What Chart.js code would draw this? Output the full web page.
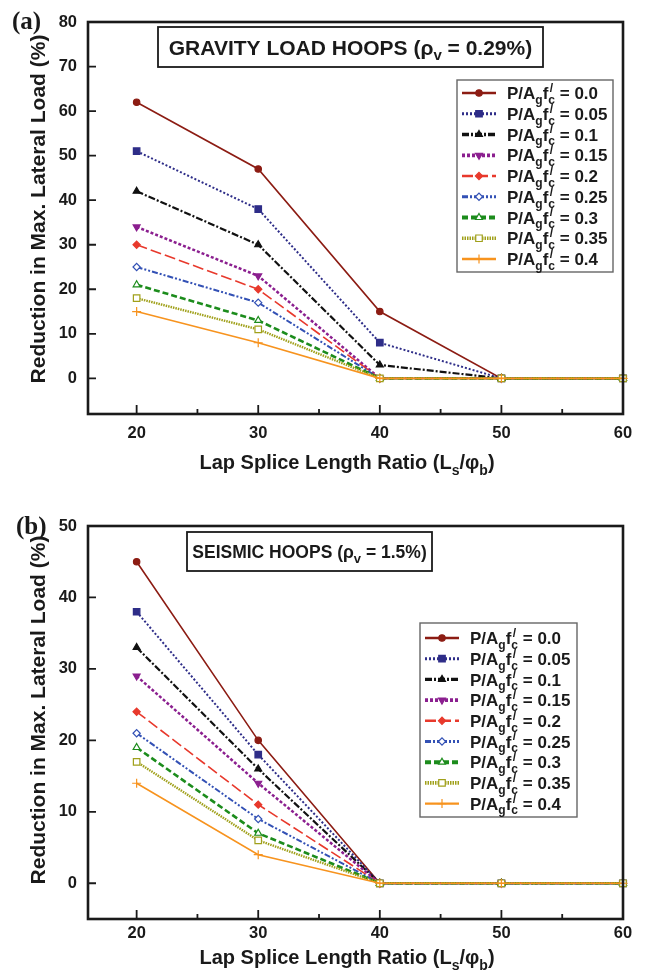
<!DOCTYPE html>
<html>
<head>
<meta charset="utf-8">
<script src="https://cdn.jsdelivr.net/npm/chart.js@4.4.0/dist/chart.umd.min.js"></script>
<style>
  html, body { margin: 0; padding: 0; background: #fff; }
  #wrap { position: relative; width: 646px; height: 980px; }
  .panel { position: absolute; left: 0; width: 646px; height: 490px; }
</style>
</head>
<body>
<div id="wrap">
  <div class="panel" style="top:0"><canvas id="chartA" width="646" height="490"></canvas></div>
  <div class="panel" style="top:490px"><canvas id="chartB" width="646" height="490"></canvas></div>
</div>
<script>
// --- data ---
const xValues = [20, 30, 40, 50, 60];
const xTicks = [20, 30, 40, 50, 60];
const xMinorTicks = [25, 35, 45, 55];
const loadRatios = ['0.0', '0.05', '0.1', '0.15', '0.2', '0.25', '0.3', '0.35', '0.4'];

const gravityTicks = [0, 10, 20, 30, 40, 50, 60, 70, 80];
const seismicTicks = [0, 10, 20, 30, 40, 50];

// (a) gravity load hoops, one row per P/Agfc'
const gravityReduction = [
  [62, 47, 15, 0, 0],
  [51, 38, 8, 0, 0],
  [42, 30, 3, 0, 0],
  [34, 23, 0, 0, 0],
  [30, 20, 0, 0, 0],
  [25, 17, 0, 0, 0],
  [21, 13, 0, 0, 0],
  [18, 11, 0, 0, 0],
  [15, 8, 0, 0, 0]
];

// (b) seismic hoops
const seismicReduction = [
  [45, 20, 0, 0, 0],
  [38, 18, 0, 0, 0],
  [33, 16, 0, 0, 0],
  [29, 14, 0, 0, 0],
  [24, 11, 0, 0, 0],
  [21, 9, 0, 0, 0],
  [19, 7, 0, 0, 0],
  [17, 6, 0, 0, 0],
  [14, 4, 0, 0, 0]
];

// --- styles ---
const FONT = '"Liberation Sans", Arial, Helvetica, sans-serif';
const TEXT = '#1a1a1a';

const seriesStyles = [
  { color: '#8c1c13', dash: [], width: 1.6, marker: 'circle', radius: 3.2 },
  { color: '#2e2d88', dash: [2, 2], width: 2, marker: 'rect', radius: 4.6 },
  { color: '#111111', dash: [7, 2, 2, 2], width: 2.2, marker: 'triangle', radius: 4 },
  { color: '#8b1f8f', dash: [3, 2], width: 2.5, marker: 'triangle', radius: 4, rotation: 180 },
  { color: '#e8392c', dash: [11, 4], width: 1.6, marker: 'rectRot', radius: 3.6 },
  { color: '#3351b5', dash: [6, 2, 2, 2, 2, 2], width: 2, marker: 'rectRot', radius: 3.6, open: true },
  { color: '#1c8c1c', dash: [6, 3], width: 2.6, marker: 'triangle', radius: 4, open: true },
  { color: '#a0a01a', dash: [1.5, 1], width: 2.4, marker: 'rect', radius: 4.6, open: true },
  { color: '#f7931e', dash: [], width: 1.6, marker: 'cross', radius: 4.5 }
];

// rich text helpers (subscripts / primes)
function partFont(size, small) {
  return `bold ${small ? Math.round(size * 0.72) : size}px ${FONT}`;
}

function partAdvance(ctx, p, size) {
  ctx.font = partFont(size, p.sub);
  let w = ctx.measureText(p.t).width;
  if (p.over) {
    ctx.font = partFont(size, true);
    w = Math.max(w, ctx.measureText(p.over).width + size * 0.08);
  }
  return w;
}

function drawRich(ctx, parts, x, baseY, size, align) {
  const total = parts.reduce((s, p) => s + partAdvance(ctx, p, size), 0);
  let cx = align === 'center' ? x - total / 2 : x;
  ctx.textAlign = 'left';
  ctx.textBaseline = 'alphabetic';
  ctx.fillStyle = TEXT;
  parts.forEach(p => {
    const adv = partAdvance(ctx, p, size);
    ctx.font = partFont(size, p.sub);
    ctx.fillText(p.t, cx, p.sub ? baseY + size * 0.28 : baseY);
    if (p.over) {
      ctx.font = partFont(size, true);
      ctx.fillText(p.over, cx + size * 0.08, baseY - size * 0.42);
    }
    cx += adv;
  });
}

const legendParts = r => [{ t: 'P/A' }, { t: 'g', sub: true }, { t: 'f' }, { t: 'c', sub: true, over: '/' }, { t: ' = ' + r }];
const xTitleParts = [{ t: 'Lap Splice Length Ratio (L' }, { t: 's', sub: true }, { t: '/\u03c6' }, { t: 'b', sub: true }, { t: ')' }];
const yTitleParts = [{ t: 'Reduction in Max. Lateral Load (%)' }];

function drawMarker(ctx, st, x, y) {
  ctx.save();
  ctx.setLineDash([]);
  ctx.fillStyle = st.open ? '#fff' : st.color;
  ctx.strokeStyle = st.color;
  ctx.lineWidth = 1.2;
  if (Chart.helpers && Chart.helpers.drawPoint) {
    Chart.helpers.drawPoint(ctx, { pointStyle: st.marker, radius: st.radius, rotation: st.rotation || 0, borderWidth: 1.2 }, x, y);
  }
  ctx.restore();
}

const decorPlugin = {
  id: 'decor',
  afterDatasetsDraw(chart, args, opts) {
    const { ctx, chartArea: a, scales: { x, y } } = chart;
    ctx.save();
    ctx.strokeStyle = TEXT;
    ctx.lineWidth = 1.8;
    ctx.beginPath();
    xTicks.forEach(v => { const px = x.getPixelForValue(v); ctx.moveTo(px, a.bottom); ctx.lineTo(px, a.bottom - 9); });
    xMinorTicks.forEach(v => { const px = x.getPixelForValue(v); ctx.moveTo(px, a.bottom); ctx.lineTo(px, a.bottom - 5); });
    opts.yTicks.forEach(v => { const py = y.getPixelForValue(v); ctx.moveTo(a.left, py); ctx.lineTo(a.left + 8, py); });
    ctx.stroke();
    ctx.lineWidth = 2.6;
    ctx.strokeRect(a.left, a.top, a.right - a.left, a.bottom - a.top);
    ctx.restore();
  },
  afterDraw(chart, args, opts) {
    const ctx = chart.ctx;
    ctx.save();

    // panel letter
    ctx.font = `bold 25px "Liberation Serif", "Times New Roman", serif`;
    ctx.fillStyle = TEXT;
    ctx.textAlign = 'left';
    ctx.textBaseline = 'alphabetic';
    ctx.fillText(opts.letter, opts.letterX, opts.letterY);

    // title box
    const tb = opts.titleBox;
    ctx.fillStyle = '#fff';
    ctx.fillRect(tb.x, tb.y, tb.w, tb.h);
    ctx.strokeStyle = TEXT;
    ctx.lineWidth = 1.8;
    ctx.strokeRect(tb.x, tb.y, tb.w, tb.h);
    drawRich(ctx, tb.parts, tb.x + tb.w / 2, tb.y + tb.h / 2 + tb.size * 0.36, tb.size, 'center');

    // axis titles
    drawRich(ctx, xTitleParts, opts.xTitleX, opts.xTitleY, 20, 'center');
    ctx.save();
    ctx.translate(opts.yTitleX, opts.yTitleY);
    ctx.rotate(-Math.PI / 2);
    drawRich(ctx, yTitleParts, 0, 21 * 0.36, 21, 'center');
    ctx.restore();

    // legend
    const lg = opts.legend;
    ctx.fillStyle = '#fff';
    ctx.fillRect(lg.x, lg.y, lg.w, lg.h);
    ctx.strokeStyle = '#666';
    ctx.lineWidth = 1.4;
    ctx.strokeRect(lg.x, lg.y, lg.w, lg.h);
    loadRatios.forEach((r, i) => {
      const st = seriesStyles[i];
      const cy = lg.rowTop + i * lg.rowGap;
      ctx.save();
      ctx.strokeStyle = st.color;
      ctx.lineWidth = st.width * 1.5;
      ctx.setLineDash(st.dash);
      ctx.beginPath();
      ctx.moveTo(lg.lineX0, cy);
      ctx.lineTo(lg.lineX1, cy);
      ctx.stroke();
      ctx.restore();
      drawMarker(ctx, st, (lg.lineX0 + lg.lineX1) / 2, cy);
      drawRich(ctx, legendParts(r), lg.textX, cy + 17 * 0.36, 17, 'left');
    });

    ctx.restore();
  }
};

function makeChart(id, series, cfg) {
  const datasets = series.map((vals, i) => {
    const st = seriesStyles[i];
    return {
      label: "P/Agfc' = " + loadRatios[i],
      data: xValues.map((x, j) => ({ x, y: vals[j] })),
      borderColor: st.color,
      borderWidth: st.width,
      borderDash: st.dash,
      pointStyle: st.marker,
      pointRotation: st.rotation || 0,
      pointRadius: st.radius,
      pointBackgroundColor: st.open ? '#fff' : st.color,
      pointBorderColor: st.color,
      pointBorderWidth: 1.2,
      tension: 0,
      fill: false,
      clip: false,
      order: series.length - i
    };
  });

  const tickFont = { family: FONT, size: 16.5, weight: 'bold' };

  return new Chart(document.getElementById(id), {
    type: 'line',
    data: { datasets },
    options: {
      responsive: false,
      animation: false,
      devicePixelRatio: 1,
      layout: { padding: { left: 0, right: 23, top: cfg.top, bottom: 0 } },
      scales: {
        x: {
          type: 'linear', min: 16, max: 60,
          grid: { display: false, drawTicks: false },
          border: { display: false },
          afterBuildTicks: s => { s.ticks = xTicks.map(v => ({ value: v })); },
          afterFit: s => { s.height = cfg.xHeight; },
          ticks: { font: tickFont, color: TEXT, padding: cfg.xPad, maxRotation: 0 }
        },
        y: {
          type: 'linear', min: cfg.yMin, max: cfg.yMax,
          grid: { display: false, drawTicks: false },
          border: { display: false },
          afterBuildTicks: s => { s.ticks = cfg.yTicks.map(v => ({ value: v })); },
          afterFit: s => { s.width = 88; },
          ticks: { font: tickFont, color: TEXT, padding: 11 }
        }
      },
      plugins: {
        legend: { display: false },
        tooltip: { enabled: false },
        decor: cfg
      }
    },
    plugins: [decorPlugin]
  });
}

makeChart('chartA', gravityReduction, {
  top: 22, xHeight: 76, xPad: 10, yMin: -8, yMax: 80, yTicks: gravityTicks,
  letter: '(a)', letterX: 12, letterY: 29,
  titleBox: { x: 158, y: 27, w: 385, h: 40, size: 21,
    parts: [{ t: 'GRAVITY LOAD HOOPS (\u03c1' }, { t: 'v', sub: true }, { t: ' = 0.29%)' }] },
  xTitleX: 347, xTitleY: 469,
  yTitleX: 37, yTitleY: 209,
  legend: { x: 457, y: 80, w: 156, h: 192, rowTop: 93, rowGap: 20.75, lineX0: 462, lineX1: 496, textX: 507 }
});

makeChart('chartB', seismicReduction, {
  top: 36, xHeight: 61, xPad: 5, yMin: -5, yMax: 50, yTicks: seismicTicks,
  letter: '(b)', letterX: 16, letterY: 44,
  titleBox: { x: 187, y: 42, w: 245, h: 39, size: 17.5,
    parts: [{ t: 'SEISMIC HOOPS (\u03c1' }, { t: 'v', sub: true }, { t: ' = 1.5%)' }] },
  xTitleX: 347, xTitleY: 474,
  yTitleX: 37, yTitleY: 220,
  legend: { x: 420, y: 133, w: 157, h: 194, rowTop: 148, rowGap: 20.7, lineX0: 425, lineX1: 459, textX: 470 }
});
</script>
</body>
</html>
